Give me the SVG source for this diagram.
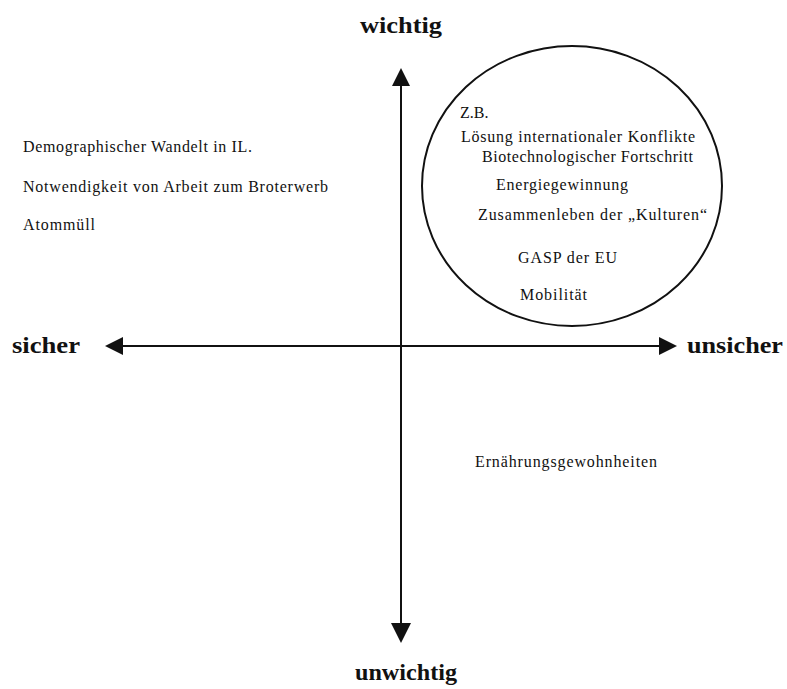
<svg xmlns="http://www.w3.org/2000/svg" width="787" height="689" viewBox="0 0 787 689">
<style>
.t{font-family:"Liberation Serif","Times New Roman",serif;font-size:16px;fill:#111}
.lbl{font-family:"Liberation Serif","Times New Roman",serif;font-size:24px;font-weight:bold;fill:#111}
.ax{stroke:#111;stroke-width:2;fill:none}
.ah{fill:#111}
</style>
<rect width="787" height="689" fill="#fff"/>
<g id="connectors">
<line class="ax" x1="401" y1="80" x2="401" y2="630"/>
<line class="ax" x1="115" y1="346" x2="665" y2="346"/>
<polygon class="ah" points="401,68 410,86 392,86"/>
<polygon class="ah" points="401,643 391,623 411,623"/>
<polygon class="ah" points="105,346 123,337 123,355"/>
<polygon class="ah" points="677,346 659,337 659,355"/>
</g>
<g id="wichtig"><text class="lbl" x="360" y="33" textLength="82" lengthAdjust="spacingAndGlyphs">wichtig</text></g>
<g id="unwichtig"><text class="lbl" x="355" y="680" textLength="102" lengthAdjust="spacingAndGlyphs">unwichtig</text></g>
<g id="sicher"><text class="lbl" x="12" y="353" textLength="68" lengthAdjust="spacingAndGlyphs">sicher</text></g>
<g id="unsicher"><text class="lbl" x="687" y="353" textLength="96" lengthAdjust="spacingAndGlyphs">unsicher</text></g>
<g id="sicher-wichtig">
<text class="t" x="23" y="152" textLength="229" lengthAdjust="spacing">Demographischer Wandelt in IL.</text>
<text class="t" x="23" y="192" textLength="305" lengthAdjust="spacing">Notwendigkeit von Arbeit zum Broterwerb</text>
<text class="t" x="23" y="230" textLength="72" lengthAdjust="spacing">Atommüll</text>
</g>
<g id="unsicher-wichtig">
<ellipse class="ax" cx="572" cy="186" rx="150" ry="140" stroke-width="1.5"/>
<text class="t" x="460" y="118">Z.B.</text>
<text class="t" x="461" y="142" textLength="234" lengthAdjust="spacing">Lösung internationaler  Konflikte</text>
<text class="t" x="482" y="162" textLength="211" lengthAdjust="spacing">Biotechnologischer Fortschritt</text>
<text class="t" x="496" y="190" textLength="132" lengthAdjust="spacing">Energiegewinnung</text>
<text class="t" x="478" y="220" textLength="229" lengthAdjust="spacing">Zusammenleben der „Kulturen“</text>
<text class="t" x="518" y="263" textLength="99" lengthAdjust="spacing">GASP der EU</text>
<text class="t" x="520" y="300" textLength="67" lengthAdjust="spacing">Mobilität</text>
</g>
<g id="unsicher-unwichtig">
<text class="t" x="475" y="467" textLength="182" lengthAdjust="spacing">Ernährungsgewohnheiten</text>
</g>
</svg>
